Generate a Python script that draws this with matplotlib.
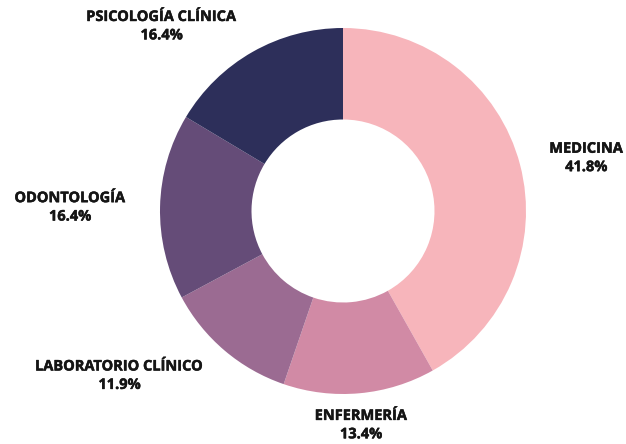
import matplotlib
matplotlib.use("Agg")
import matplotlib.pyplot as plt
import matplotlib.patheffects as pe

carreras = ["MEDICINA", "ENFERMERÍA", "LABORATORIO CLÍNICO", "ODONTOLOGÍA", "PSICOLOGÍA CLÍNICA"]
porcentajes = [41.8, 13.4, 11.9, 16.4, 16.4]
colores = ["#F7B5BB", "#D18AA5", "#9B6B92", "#654C78", "#2D2F5A"]
# posicion de cada etiqueta (en radios del anillo)
pos_etiquetas = [(1.33, 0.29), (0.10, -1.17), (-1.22, -0.90), (-1.49, 0.02), (-0.99, 1.01)]

plt.rcParams["font.family"] = ["Open Sans", "DejaVu Sans"]

fig = plt.figure(figsize=(6.26, 4.44), dpi=100)
ax = fig.add_axes([0, 0, 1, 1])

ax.pie(porcentajes, colors=colores, startangle=90, counterclock=False,
       radius=1, wedgeprops=dict(width=0.5, linewidth=0))

for nombre, p, (x, y) in zip(carreras, porcentajes, pos_etiquetas):
    ax.text(x, y, f"{nombre}\n{p}%", ha="center", va="center", fontsize=10.5,
            fontweight="bold", color="#151515", linespacing=1.4,
            path_effects=[pe.withStroke(linewidth=0.35, foreground="#151515")])

ax.set_xlim(-343 / 183, (626 - 343) / 183)
ax.set_ylim(-(444 - 211) / 183, 211 / 183)
ax.set_aspect("equal")
ax.axis("off")

fig.savefig("out.png", dpi=100)
plt.close()
